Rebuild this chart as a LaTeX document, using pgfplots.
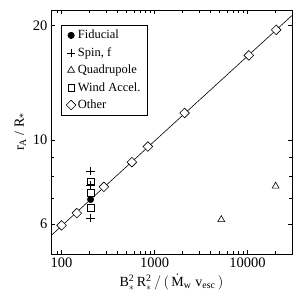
\documentclass[border=0pt]{standalone}
\usepackage{fontspec}
\setmainfont{Liberation Serif}
\usepackage{pgfplots}
\pgfplotsset{compat=1.18}
\begin{document}
\begin{tikzpicture}
\begin{axis}[name=ax,
  scale only axis, width=241pt, height=244pt,
  xmode=log, ymode=log,
  xmin=77, xmax=30000, ymin=5, ymax=22,
  xtick={100,1000,10000}, xticklabels={\textrm{100},\textrm{1000},\textrm{10000}},
  minor xtick={90,200,300,400,500,600,700,800,900,2000,3000,4000,5000,6000,7000,8000,9000,20000},
  ytick={6,10,20}, yticklabels={\textrm{6},\textrm{10},\textrm{20}},
  minor ytick={7,8,9},
  tick align=inside, xtick pos=both, ytick pos=both,
  major tick length=4.5pt, minor tick length=2.8pt,
  tick style={black, line width=0.6pt},
  axis line style={line width=0.8pt},
  /pgf/number format/assume math mode=true,
  tick label style={font=\fontsize{14.5}{16}\selectfont},
  label style={font=\fontsize{14}{16}\selectfont},
  xlabel={$\mathrm{B}_{*}^{\mathrm{2}}\,\mathrm{R}_{*}^{\mathrm{2}}\,/\,(\,\dot{\mathrm{M}}_{\mathrm{w}}\;\mathrm{v}_{\mathrm{esc}}\,)$},
  ylabel={r\textsubscript{A} / R\textsubscript{*}},
  legend style={at={(0.0415,0.9385)}, anchor=north west, draw=black, line width=0.6pt,
    font=\fontsize{12.5}{13}\selectfont, inner xsep=5pt, inner ysep=3pt, row sep=3.2pt},
  legend cell align=left,
]
\addplot[black, line width=0.6pt, forget plot] coordinates {(77,5.59) (30000,21.28)};
\addplot[only marks, mark=*, mark size=3.2pt, black] coordinates {(205,6.96)};
\addlegendentry{Fiducial}
\addplot[only marks, mark=+, mark size=4.2pt, black, mark options={line width=0.6pt}] coordinates {(205,8.28) (205,7.60) (205,6.22)};
\addlegendentry{Spin, f}
\addplot[only marks, mark=triangle, mark size=4pt, black, mark options={line width=0.6pt}] coordinates {(5210,6.16) (20000,7.55)};
\addlegendentry{Quadrupole}
\addplot[only marks, mark=square, mark size=3.3pt, black, mark options={line width=0.6pt}] coordinates {(205,7.78) (205,7.25) (205,6.63)};
\addlegendentry{Wind Accel.}
\addplot[only marks, mark=square*, mark size=3.4pt, black, mark options={rotate=45, fill=white, line width=0.6pt}] coordinates {(100,5.95) (146,6.41) (285,7.52) (570,8.73) (847,9.6) (2100,11.77) (10300,16.7) (20300,19.5)};
\addlegendentry{Other}
\end{axis}
\pgfresetboundingbox
\path ([shift={(-51pt,-43pt)}]ax.south west) rectangle ([shift={(15pt,10pt)}]ax.north east);
\end{tikzpicture}
\end{document}
